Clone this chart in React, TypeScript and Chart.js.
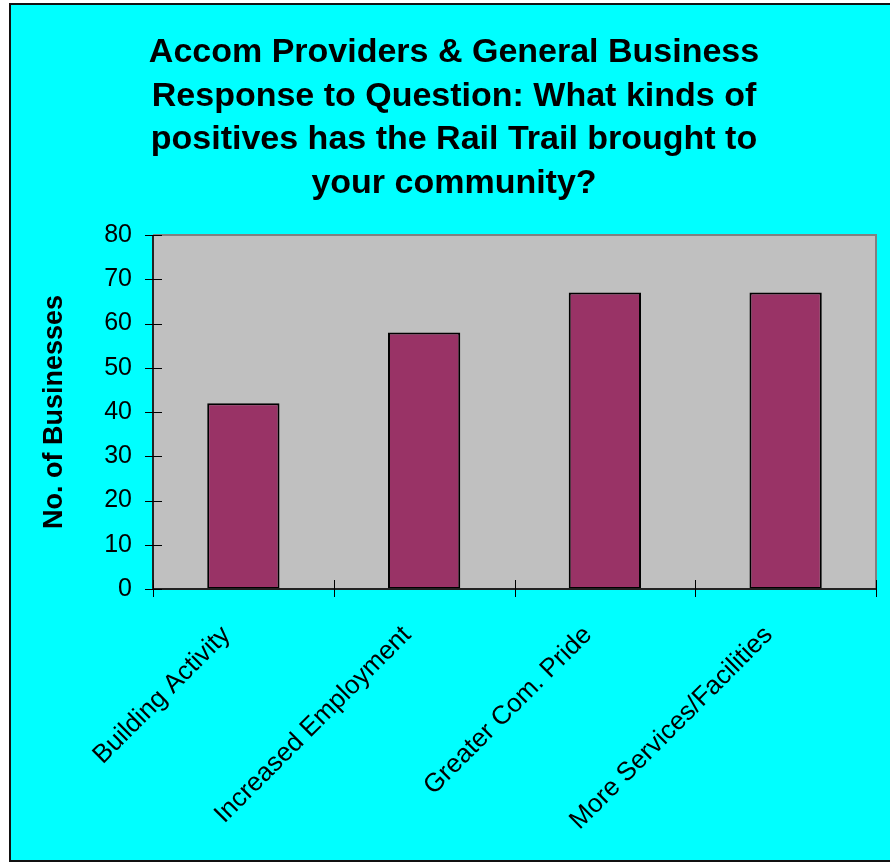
import React, { useEffect, useRef } from "react";
import { Chart, registerables } from "chart.js";

Chart.register(...registerables);

const categories = [
  "Building Activity",
  "Increased Employment",
  "Greater Com. Pride",
  "More Services/Facilities",
];
const businessCounts = [42, 58, 67, 67];
const titleLines = [
  "Accom Providers & General Business",
  "Response to Question: What kinds of",
  "positives has the Rail Trail brought to",
  "your community?",
];
const yAxisTitle = "No. of Businesses";
const yMin = 0;
const yMax = 80;
const yStep = 10;

const FONT = "'Liberation Sans', Arial, Helvetica, sans-serif";
const W = 890;
const H = 863;

const framePlugin = {
  id: "frame",
  beforeDraw(chart: any) {
    const { ctx, chartArea: a, width, height } = chart;
    ctx.save();
    ctx.fillStyle = "#ffffff";
    ctx.fillRect(0, 0, width, height);
    ctx.fillStyle = "#00ffff";
    ctx.fillRect(10, 4, width, 857);
    ctx.strokeStyle = "#111111";
    ctx.lineWidth = 2;
    ctx.strokeRect(10, 4, width + 20, 857);
    ctx.fillStyle = "#c0c0c0";
    ctx.fillRect(a.left, a.top, a.right - a.left, a.bottom - a.top);
    ctx.restore();
  },
  afterDraw(chart: any) {
    const { ctx, chartArea: a, scales } = chart;
    const xs = scales.x;
    const ys = scales.y;
    ctx.save();
    ctx.strokeStyle = "#808080";
    ctx.lineWidth = 2;
    ctx.beginPath();
    ctx.moveTo(a.left, a.top);
    ctx.lineTo(a.right, a.top);
    ctx.lineTo(a.right, a.bottom);
    ctx.stroke();

    ctx.strokeStyle = "#222222";
    ctx.lineWidth = 2;
    ctx.beginPath();
    ctx.moveTo(a.left, a.top);
    ctx.lineTo(a.left, a.bottom);
    ctx.lineTo(a.right, a.bottom);
    ctx.stroke();

    ctx.strokeStyle = "#000000";
    ctx.lineWidth = 1;
    ctx.beginPath();
    ys.ticks.forEach((t: any) => {
      const py = Math.round(ys.getPixelForValue(t.value)) + 0.5;
      ctx.moveTo(a.left - 8, py);
      ctx.lineTo(a.left + 9, py);
    });
    for (let i = 0; i <= categories.length; i++) {
      const px = Math.round(xs.getPixelForValue(i - 0.5)) + 0.5;
      ctx.moveTo(px, a.bottom - 9);
      ctx.lineTo(px, a.bottom + 8);
    }
    ctx.stroke();
    ctx.restore();
  },
};

export default function App() {
  const canvasRef = useRef<HTMLCanvasElement | null>(null);

  useEffect(() => {
    if (!canvasRef.current) return;
    const chart = new Chart(canvasRef.current, {
      type: "bar",
      data: {
        labels: categories,
        datasets: [
          {
            data: businessCounts,
            backgroundColor: "#993366",
            borderColor: "#000000",
            borderWidth: 2,
            borderSkipped: false,
            barPercentage: 0.4,
            categoryPercentage: 1,
          },
        ],
      },
      options: {
        responsive: false,
        animation: false,
        devicePixelRatio: 1,
        layout: { padding: { left: 32, right: 14, top: 0, bottom: 0 } },
        plugins: {
          legend: { display: false },
          tooltip: { enabled: false },
          title: {
            display: true,
            text: titleLines,
            color: "#000000",
            font: { family: FONT, size: 34, weight: "bold", lineHeight: 1.28 },
            padding: { top: 31, bottom: 30 },
          },
        },
        scales: {
          x: {
            type: "category",
            offset: true,
            grid: { display: false, drawTicks: true, tickLength: 8 },
            border: { display: false },
            ticks: {
              color: "#000000",
              font: { family: FONT, size: 26 },
              maxRotation: 45,
              minRotation: 45,
              padding: 23,
              labelOffset: -17,
              autoSkip: false,
            },
            afterFit: (s: any) => {
              s.height = H - 589;
            },
          },
          y: {
            min: yMin,
            max: yMax,
            ticks: {
              stepSize: yStep,
              color: "#000000",
              font: { family: FONT, size: 25 },
              padding: 13,
            },
            grid: { display: false, drawTicks: true, tickLength: 8 },
            border: { display: false },
            title: {
              display: true,
              text: yAxisTitle,
              color: "#000000",
              font: { family: FONT, size: 27, weight: "bold" },
              padding: { top: 6, bottom: 0 },
            },
            afterFit: (s: any) => {
              s.width = 121;
            },
          },
        },
      },
      plugins: [framePlugin],
    });
    return () => chart.destroy();
  }, []);

  return (
    <div style={{ position: "absolute", left: 0, top: 0, width: W, height: H }}>
      <canvas ref={canvasRef} width={W} height={H} style={{ display: "block" }} />
    </div>
  );
}
